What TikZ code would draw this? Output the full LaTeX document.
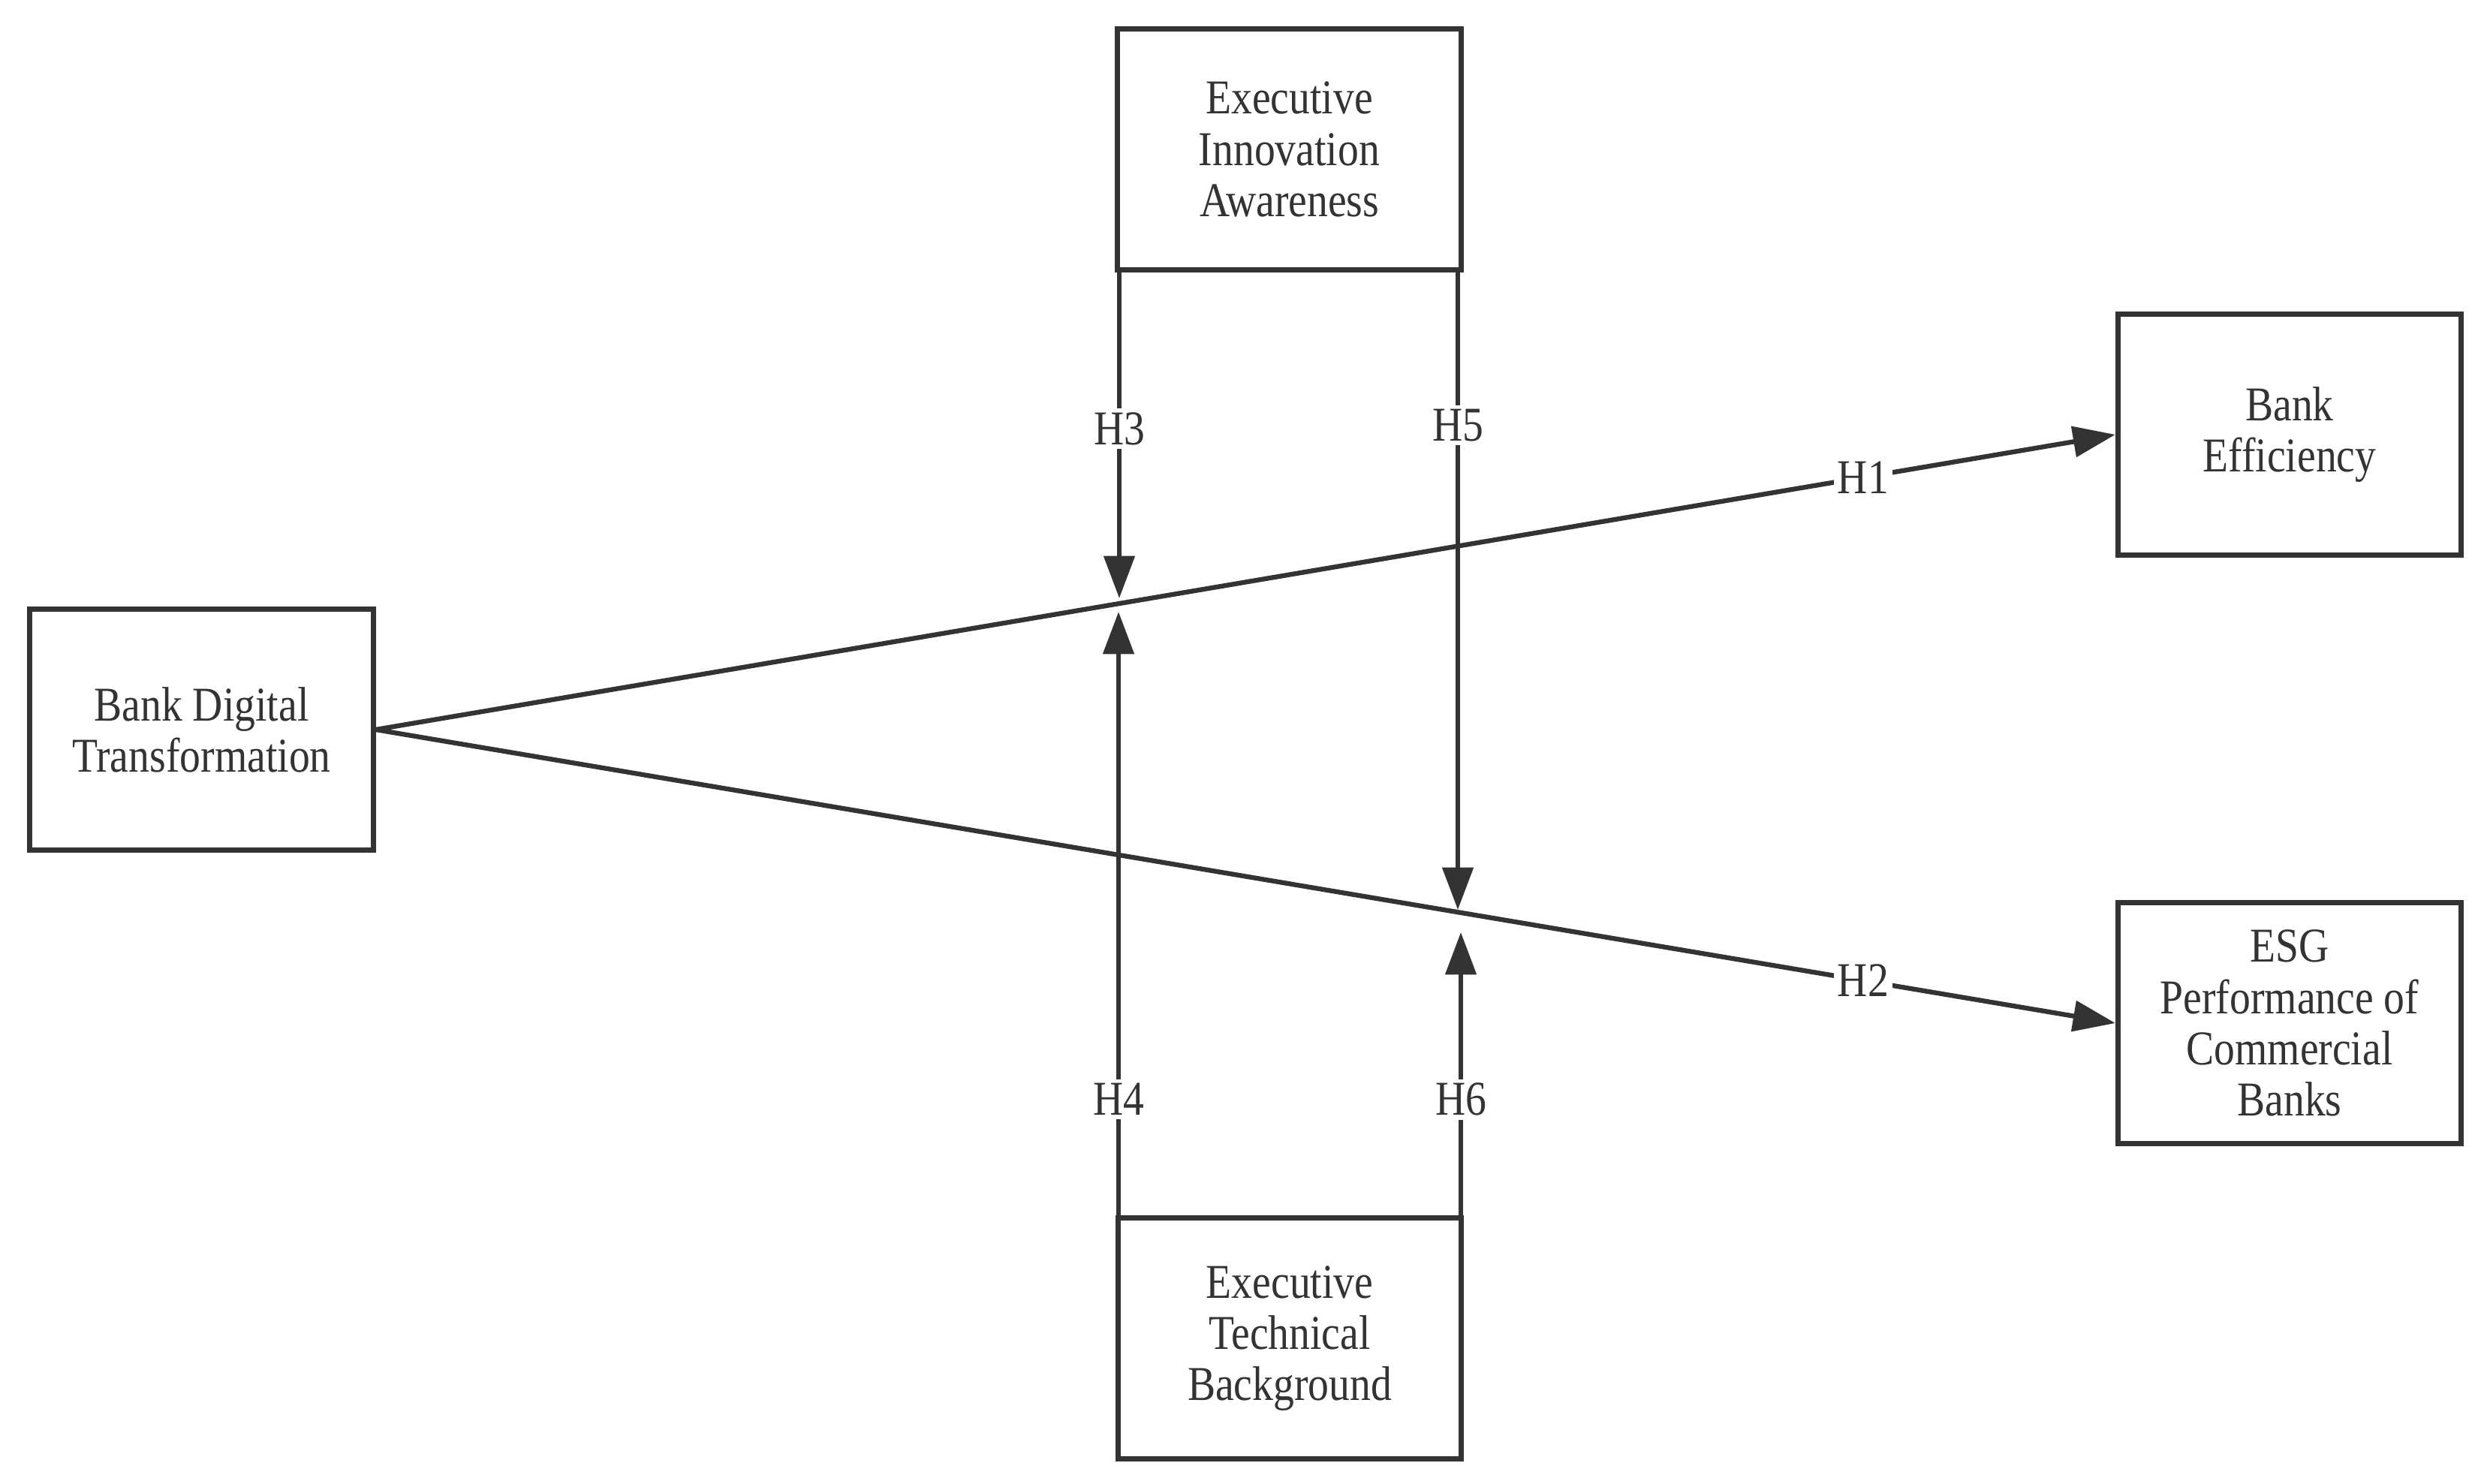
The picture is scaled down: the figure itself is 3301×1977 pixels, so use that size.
\documentclass[tikz,border=0pt]{standalone}
\usepackage{fontspec}
\setmainfont{Liberation Serif}[FakeStretch=0.86]
\usetikzlibrary{arrows.meta}
\definecolor{ink}{HTML}{333333}
\begin{document}
\begin{tikzpicture}[x=0.01cm, y=-0.01cm,
  box/.style={draw=ink, line width=2pt, minimum width=4.57cm, minimum height=3.2cm,
    inner sep=0pt, align=center, text=ink, font=\fontsize{18.4}{19.4}\selectfont},
  conn/.style={draw=ink, line width=1.8pt, -{Triangle[length=16pt,width=11.5pt]}},
  hlab/.style={fill=white, text=ink, inner sep=1.5pt, font=\fontsize{18.4}{19.4}\selectfont}]
\useasboundingbox (0,0) rectangle (3301,1977);
\fill[white] (0,0) rectangle (3301,1977);
\node[box] (bdt) at (268.5,972) {Bank Digital\\Transformation};
\node[box] (eia) at (1717.5,199) {Executive\\Innovation\\Awareness};
\node[box] (be) at (3050,579) {Bank\\Efficiency};
\node[box] (esg) at (3050,1363) {ESG\\Performance of\\Commercial\\Banks};
\node[box] (etb) at (1718,1783) {Executive\\Technical\\Background};
\coordinate (t3) at (1491,797);
\coordinate (t4) at (1490,815);
\coordinate (t5) at (1942,1212);
\coordinate (t6) at (1946,1242);
\draw[conn] (bdt.east) -- node[hlab,pos=0.855]{H1} (be.west);
\draw[conn] (bdt.east) -- node[hlab,pos=0.855]{H2} (esg.west);
\draw[conn] (t3 |- eia.south) -- node[hlab,pos=0.48]{H3} (t3);
\draw[conn] (t5 |- eia.south) -- node[hlab,pos=0.24]{H5} (t5);
\draw[conn] (t4 |- etb.north) -- node[hlab,pos=0.193]{H4} (t4);
\draw[conn] (t6 |- etb.north) -- node[hlab,pos=0.41]{H6} (t6);
\end{tikzpicture}
\end{document}
